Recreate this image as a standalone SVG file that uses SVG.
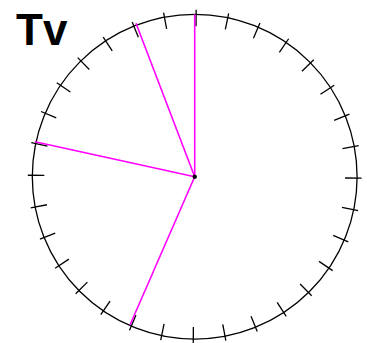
<svg xmlns="http://www.w3.org/2000/svg" xmlns:xlink="http://www.w3.org/1999/xlink" width="367" height="343" viewBox="0 0 367 343">
<style>
.dial{fill:none;stroke:#000;stroke-width:1.3}
.tick{stroke:#000;stroke-width:1.3}
.hand{stroke:#ff00ff;stroke-width:1.6;fill:none}
.title{font-family:"Liberation Sans",Arial,sans-serif;font-weight:bold;font-size:44px;fill:#000}
</style>
<defs>
<line id="tk" class="tick" x1="0" y1="-166.9" x2="0" y2="-150.4"/>
</defs>
<rect width="367" height="343" fill="#fff"/>
<text class="title" x="16" y="45">Tv</text>
<g id="dial">
<circle class="dial" cx="194.7" cy="176.7" r="162.4"/>
<g id="ticks" transform="translate(194.7 176.7) rotate(0.5)">
<use xlink:href="#tk" transform="rotate(0)"/><use xlink:href="#tk" transform="rotate(11.25)"/><use xlink:href="#tk" transform="rotate(22.5)"/><use xlink:href="#tk" transform="rotate(33.75)"/>
<use xlink:href="#tk" transform="rotate(45)"/><use xlink:href="#tk" transform="rotate(56.25)"/><use xlink:href="#tk" transform="rotate(67.5)"/><use xlink:href="#tk" transform="rotate(78.75)"/>
<use xlink:href="#tk" transform="rotate(90)"/><use xlink:href="#tk" transform="rotate(101.25)"/><use xlink:href="#tk" transform="rotate(112.5)"/><use xlink:href="#tk" transform="rotate(123.75)"/>
<use xlink:href="#tk" transform="rotate(135)"/><use xlink:href="#tk" transform="rotate(146.25)"/><use xlink:href="#tk" transform="rotate(157.5)"/><use xlink:href="#tk" transform="rotate(168.75)"/>
<use xlink:href="#tk" transform="rotate(180)"/><use xlink:href="#tk" transform="rotate(191.25)"/><use xlink:href="#tk" transform="rotate(202.5)"/><use xlink:href="#tk" transform="rotate(213.75)"/>
<use xlink:href="#tk" transform="rotate(225)"/><use xlink:href="#tk" transform="rotate(236.25)"/><use xlink:href="#tk" transform="rotate(247.5)"/><use xlink:href="#tk" transform="rotate(258.75)"/>
<use xlink:href="#tk" transform="rotate(270)"/><use xlink:href="#tk" transform="rotate(281.25)"/><use xlink:href="#tk" transform="rotate(292.5)"/><use xlink:href="#tk" transform="rotate(303.75)"/>
<use xlink:href="#tk" transform="rotate(315)"/><use xlink:href="#tk" transform="rotate(326.25)"/><use xlink:href="#tk" transform="rotate(337.5)"/><use xlink:href="#tk" transform="rotate(348.75)"/>
</g>
</g>
<g id="connectors">
<line class="hand" x1="194.7" y1="176.7" x2="194.7" y2="14.3"/>
<line class="hand" x1="194.7" y1="176.7" x2="136" y2="23.3"/>
<line class="hand" x1="194.7" y1="176.7" x2="35" y2="141.7"/>
<line class="hand" x1="194.7" y1="176.7" x2="130" y2="325"/>
</g>
<g id="center">
<circle cx="194.7" cy="176.7" r="2.2" fill="#000"/>
</g>
</svg>
